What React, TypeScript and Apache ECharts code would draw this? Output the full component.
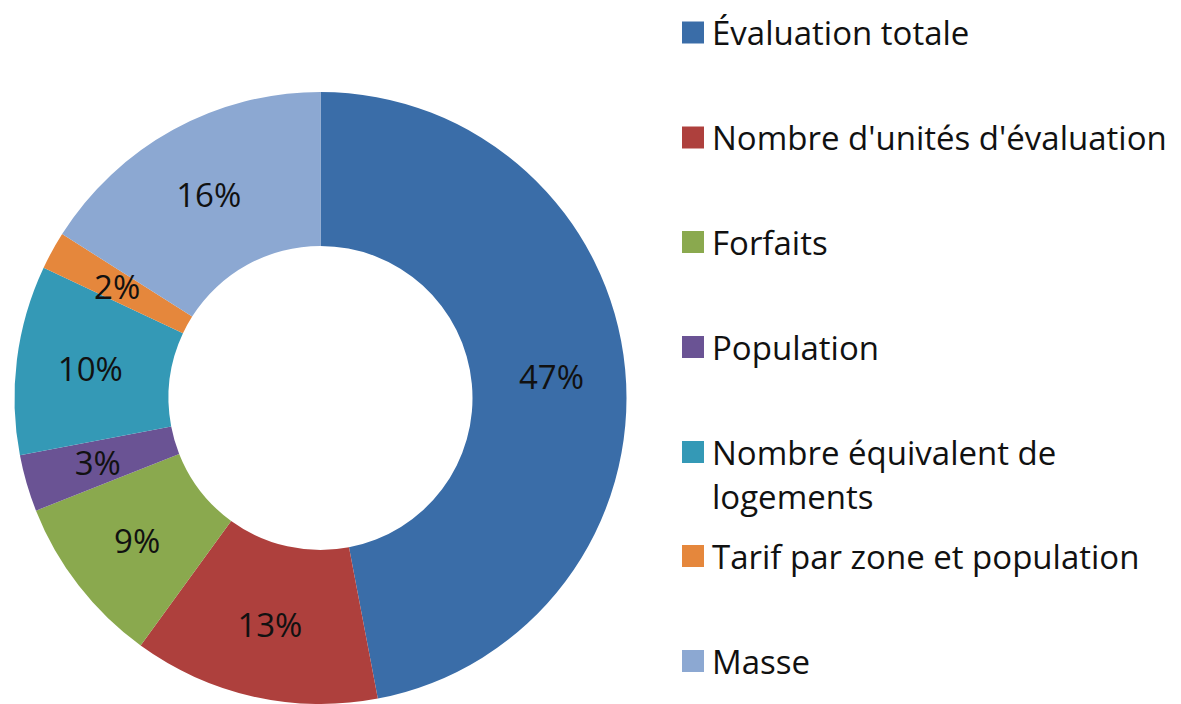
import React, { useEffect, useRef } from "react";
import * as echarts from "echarts";

const categories = [
  "Évaluation totale",
  "Nombre d'unités d'évaluation",
  "Forfaits",
  "Population",
  "Nombre équivalent de logements",
  "Tarif par zone et population",
  "Masse",
];
const values = [47, 13, 9, 3, 10, 2, 16];
const colors = ["#3A6DA8", "#AE403D", "#8AA94E", "#6A5394", "#3499B6", "#E5873C", "#8CA8D2"];
const legendLabels = [
  "Évaluation totale",
  "Nombre d'unités d'évaluation",
  "Forfaits",
  "Population",
  "\nNombre équivalent de\nlogements",
  "Tarif par zone et population",
  "Masse",
];

const FONT = "'Open Sans', sans-serif";
const LH = 44;

export default function App() {
  const ref = useRef<HTMLDivElement>(null);
  useEffect(() => {
    document.body.style.margin = "0";
    if (!ref.current) return;
    const chart = echarts.init(ref.current, null, { renderer: "svg" });
    const legendCenters = [32.5, 137.5, 242, 347, 452, 556, 661];
    const legends = categories.map((name, i) => {
      const lines = legendLabels[i].split("\n").length;
      return {
        show: true,
        orient: "vertical",
        left: 682,
        top: legendCenters[i] - (lines * LH) / 2,
        padding: 0,
        itemWidth: 22,
        itemHeight: 22,
        icon: "rect",
        selectedMode: false,
        data: [name],
        formatter: () => legendLabels[i],
        textStyle: {
          fontFamily: FONT,
          fontSize: 33,
          color: "#111",
          lineHeight: LH,
          padding: [0, 0, 0, 3],
        },
      };
    });
    chart.setOption({
      animation: false,
      backgroundColor: "#ffffff",
      color: colors,
      legend: legends,
      series: [
        {
          type: "pie",
          center: [320.5, 398],
          radius: [152, 306],
          startAngle: 90,
          clockwise: true,
          avoidLabelOverlap: false,
          itemStyle: { borderWidth: 0 },
          label: {
            show: true,
            position: "inside",
            formatter: (p: any) => `${p.value}%`,
            fontFamily: FONT,
            fontSize: 33,
            color: "#111",
          },
          labelLine: { show: false },
          emphasis: { disabled: true },
          data: categories.map((name, i) => ({ name, value: values[i] })),
        },
      ],
    });
    return () => chart.dispose();
  }, []);
  return <div ref={ref} style={{ width: 1181, height: 704 }} />;
}
